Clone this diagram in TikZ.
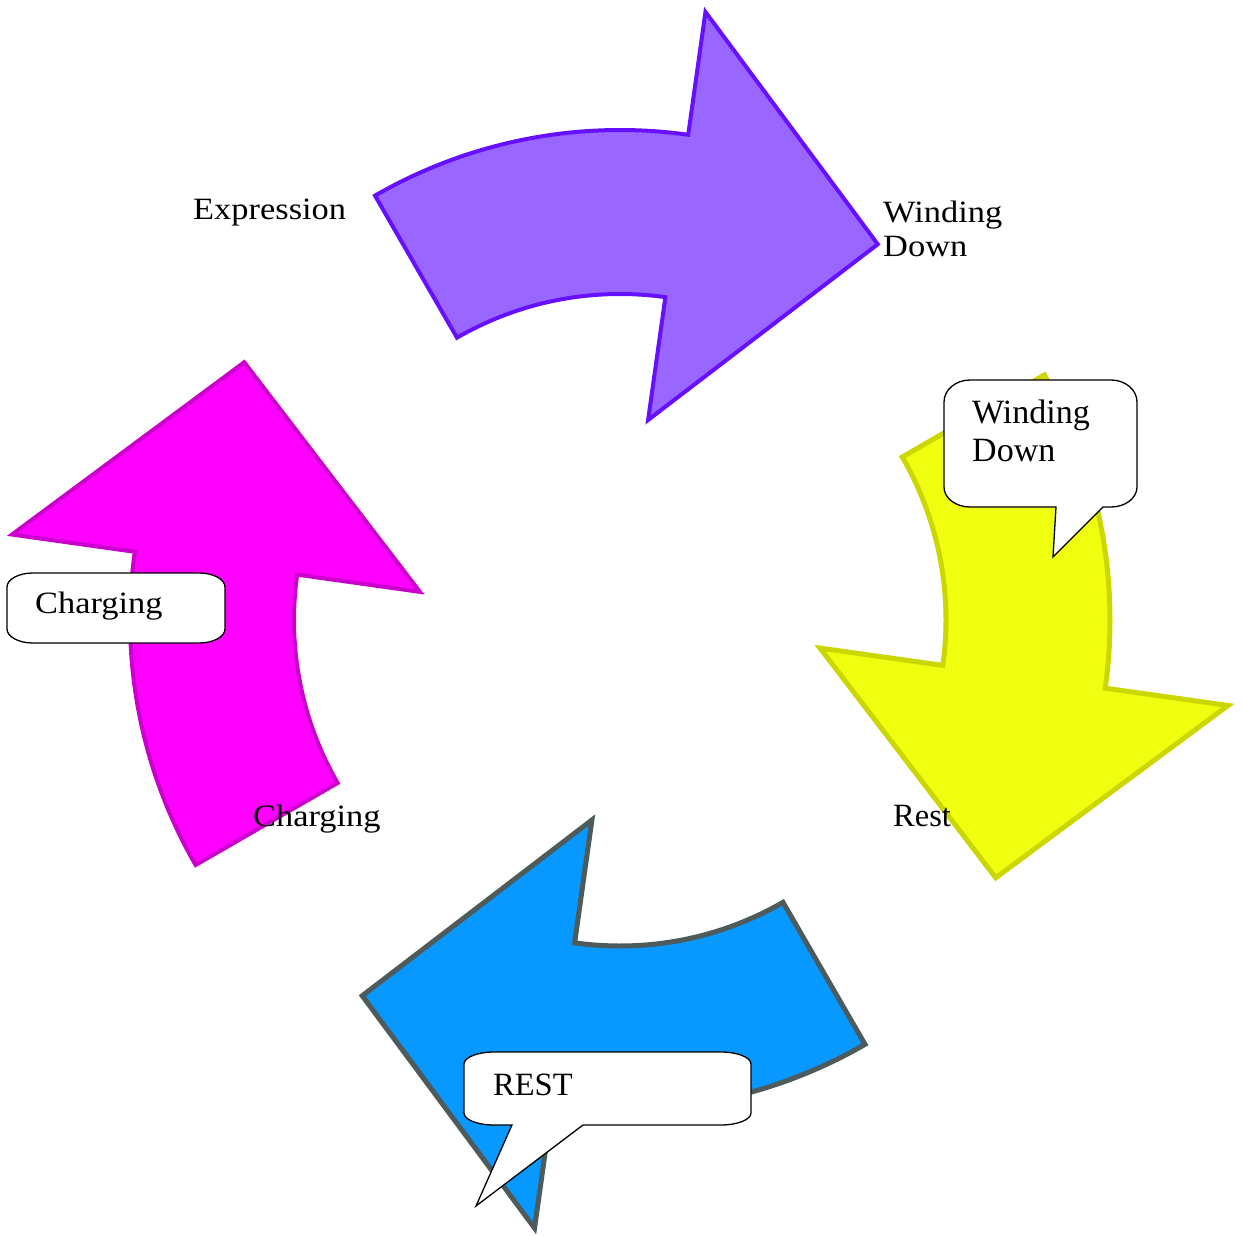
\documentclass[tikz,border=0pt]{standalone}
\usepackage{fontspec}
\setmainfont{Liberation Serif}
\newfontfamily\geo[FakeStretch=1.11]{Liberation Serif}
\definecolor{pfill}{HTML}{9966FF}
\definecolor{pline}{HTML}{6610FF}
\definecolor{yfill}{HTML}{EFFF0F}
\definecolor{yline}{HTML}{CCD600}
\definecolor{bfill}{HTML}{0799FF}
\definecolor{bline}{HTML}{4D5B5C}
\definecolor{mfill}{HTML}{FF00FF}
\definecolor{mline}{HTML}{CC00CC}
\tikzset{
  cycarrow/.pic={
    \path[pic actions] (120:490) arc[start angle=120, end angle=82, radius=490]
      -- (82:614) -- (55.55:455.7) -- (82:202) -- (82:326)
      arc[start angle=82, end angle=120, radius=326] -- cycle;
  },
  cyc/.style={line join=miter, miter limit=10},
  geolab/.style={font=\geo\fontsize{31}{34}\selectfont, inner sep=0pt, anchor=base west, align=left},
  timlab/.style={font=\fontsize{32.5}{38}\selectfont, inner sep=0pt, anchor=base west, align=left},
  callout/.style={draw=black, fill=white, line width=1.3pt, line join=miter}
}
\begin{document}
\begin{tikzpicture}[x=1pt,y=1pt]
\useasboundingbox (0,0) rectangle (1243,-1236);
\coordinate (C) at (620,-620);
% arrows
\pic[cyc, fill=pfill, draw=pline, line width=4pt] (parrow) at (C) {cycarrow};
\pic[cyc, fill=yfill, draw=yline, line width=5pt, rotate=-90] (yarrow) at (C) {cycarrow};
\pic[cyc, fill=bfill, draw=bline, line width=5pt, rotate=-180] (barrow) at (C) {cycarrow};
\pic[cyc, fill=mfill, draw=mline, line width=4pt, rotate=-270] (marrow) at (C) {cycarrow};
% labels
\node[geolab] (expr) at (193,-219) {Expression};
\node[geolab] (wind) at (883,-256) {Winding\\Down};
\node[geolab] (charg) at (253,-826) {Charging};
\node[timlab] (rest) at (893,-826) {Rest};
% callouts
\draw[callout] (970,-380) -- (1111,-380) arc[start angle=90,end angle=0,x radius=26,y radius=22]
  -- (1137,-487) arc[start angle=0,end angle=-90,x radius=26,y radius=20]
  -- (1103,-507) -- (1053,-557) -- (1056,-507) -- (970,-507)
  arc[start angle=270,end angle=180,x radius=26,y radius=20]
  -- (944,-402) arc[start angle=180,end angle=90,x radius=26,y radius=22] -- cycle;
\node[timlab, font=\fontsize{34}{38}\selectfont] (cwind) at (972,-461) {Winding\\Down};
\draw[callout] (33,-573) -- (199,-573) arc[start angle=90,end angle=0,x radius=26,y radius=14]
  -- (225,-629) arc[start angle=0,end angle=-90,x radius=26,y radius=14]
  -- (33,-643) arc[start angle=270,end angle=180,x radius=26,y radius=14]
  -- (7,-587) arc[start angle=180,end angle=90,x radius=26,y radius=14] -- cycle;
\node[geolab] (ccharg) at (35,-613) {Charging};
\draw[callout] (494,-1052) -- (721,-1052) arc[start angle=90,end angle=0,x radius=30,y radius=12]
  -- (751,-1113) arc[start angle=0,end angle=-90,x radius=30,y radius=12]
  -- (583,-1125) -- (476,-1206) -- (512,-1125) -- (494,-1125)
  arc[start angle=270,end angle=180,x radius=30,y radius=12]
  -- (464,-1064) arc[start angle=180,end angle=90,x radius=30,y radius=12] -- cycle;
\node[timlab] (crest) at (493,-1095) {REST};
\end{tikzpicture}
\end{document}
